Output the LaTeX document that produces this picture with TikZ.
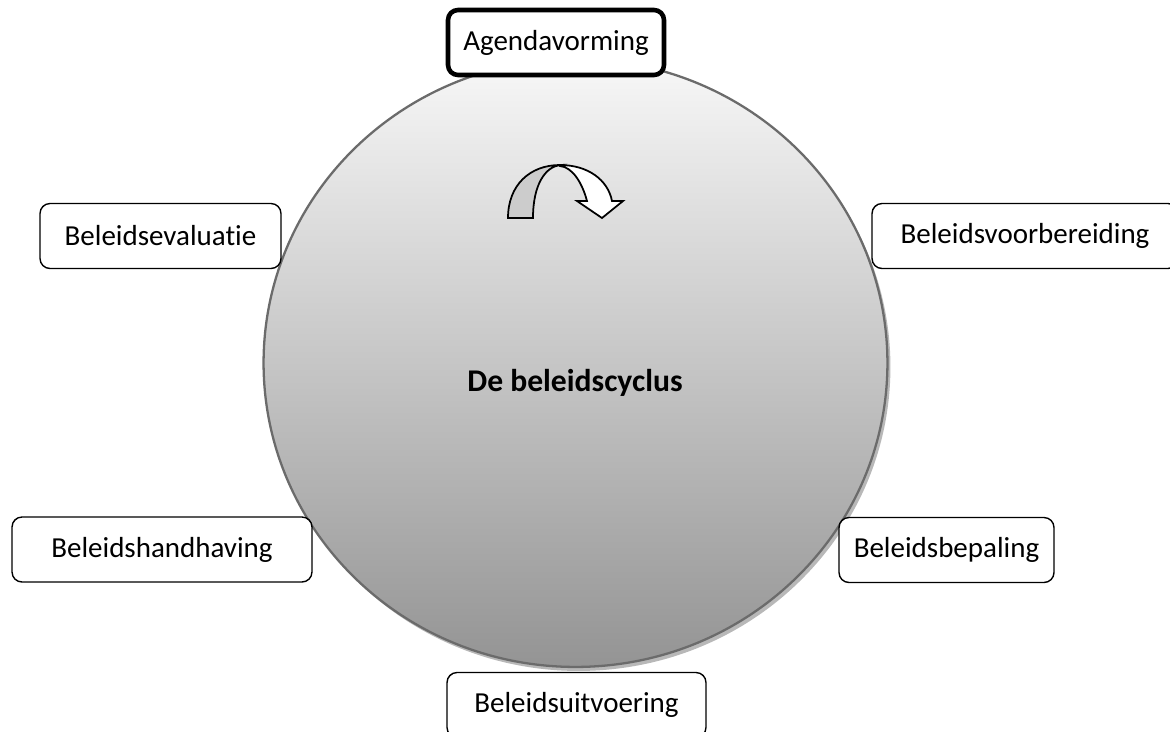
\documentclass[tikz,border=0pt]{standalone}
\usepackage{fontspec}
\setmainfont{Carlito}[Ligatures=NoCommon]
\begin{document}
\begin{tikzpicture}[x=0.02cm,y=-0.02cm,
    phase/.style={draw,rounded corners=0.2cm,fill=white,line width=0.8pt,
      minimum height=1.3cm,inner sep=0pt,font=\fontsize{16.5}{20}\selectfont}]
  \useasboundingbox (0,0) rectangle (1170,731);

  % cycle disc with a soft shadow
  \fill[black!28] (578.5,367) ellipse (6.24cm and 6.08cm);
  \shadedraw[draw=black!58,line width=1.3pt,top color=black!3,middle color=black!15,
    bottom color=black!42] (575.5,363) ellipse (6.24cm and 6.08cm);
  \node[font=\fontsize{18}{22}\selectfont\bfseries] (cycle) at (575,383) {De beleidscyclus};

  % turning arrow
  \begin{scope}[line width=1pt]
    \draw[fill=white] (560,165) .. controls (588,165) and (608,180) .. (612,201)
      -- (623,201) -- (602,218) -- (577,201) -- (587,201)
      .. controls (582,182) and (572,167) .. (560,166) -- cycle;
    \draw[fill=black!20] (508,218) .. controls (508,185) and (530,165) .. (560,165)
      .. controls (545,167) and (533,185) .. (533,218) -- cycle;
  \end{scope}

  % phases
  \begin{scope}[every node/.style={phase}]
    \node[line width=2.6pt,minimum width=4.32cm] (agenda)    at (556,42.5)  {Agendavorming};
    \node[minimum width=6.12cm] (voorbereiding) at (1025,236) {Beleidsvoorbereiding};
    \node[minimum width=4.3cm]  (bepaling)      at (946.5,550) {Beleidsbepaling};
    \node[minimum width=5.18cm] (uitvoering)    at (576.5,705) {Beleidsuitvoering};
    \node[minimum width=6cm]    (handhaving)    at (162,549.5) {Beleidshandhaving};
    \node[minimum width=4.82cm] (evaluatie)     at (160.5,236) {Beleidsevaluatie};
  \end{scope}
\end{tikzpicture}
\end{document}
